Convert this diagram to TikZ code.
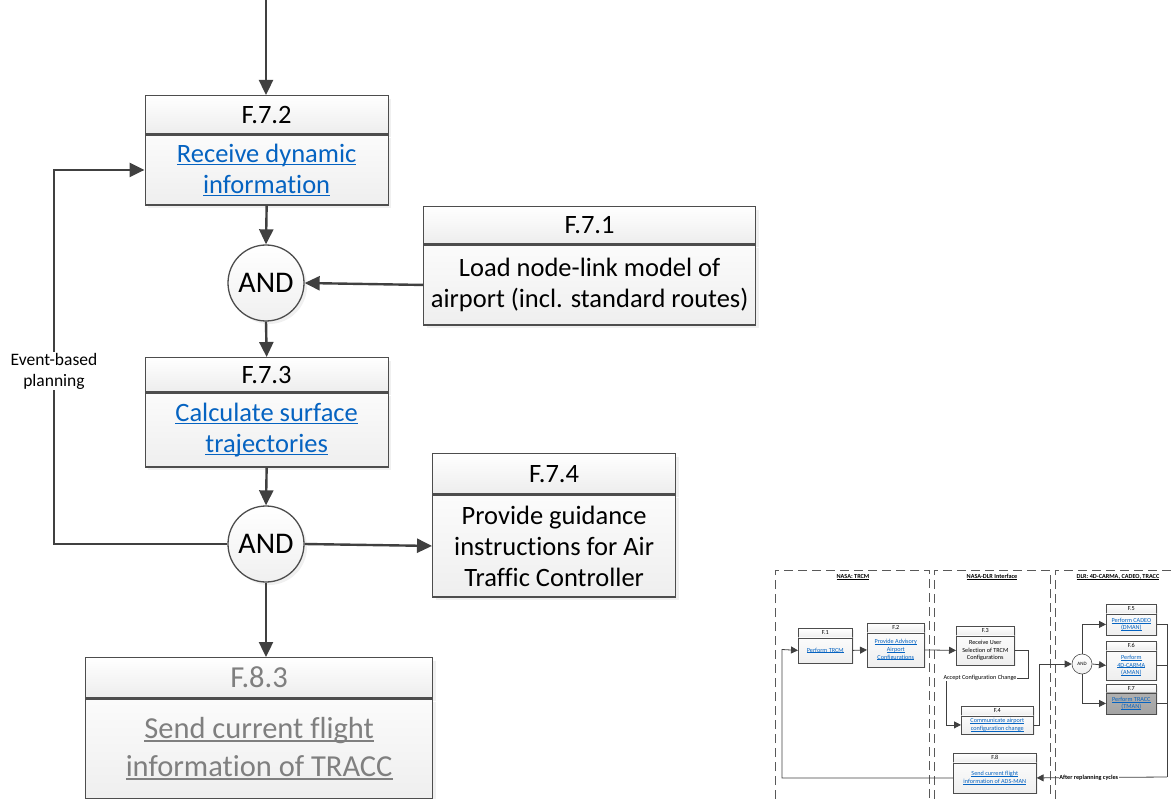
\documentclass[tikz,border=0pt]{standalone}
\usepackage{fontspec}
\setmainfont{Carlito}[Ligatures=CommonOff]
\usetikzlibrary{arrows.meta,shadows}
\definecolor{linkblue}{HTML}{0563C1}
\definecolor{linegray}{HTML}{404040}
\definecolor{boxgray}{HTML}{4D4D4D}
\definecolor{txtgray}{HTML}{7F7F7F}
\definecolor{lanegray}{HTML}{595959}
\newcommand\mainfs{\fontsize{26.5}{31}\selectfont}
\newcommand\bigfs{\fontsize{30.5}{38}\selectfont}
\newcommand\smallfs{\fontsize{6.2}{7.6}\selectfont}
\newcommand\undl[1]{\leavevmode\setbox0=\hbox{#1}\rlap{\rule[-0.11em]{\wd0}{0.06em}}\box0}
\newcommand\lnk[1]{\textcolor{linkblue}{\undl{#1}}}

\begin{document}
\begin{tikzpicture}[x=1pt,y=-1pt,
    hdr/.style={draw=boxgray,line width=1.3pt,top color=white,bottom color=gray!14,anchor=north west,inner sep=0pt,
      drop shadow={shadow xshift=3pt,shadow yshift=-3pt,opacity=0.12}},
    bdy/.style={hdr,top color=gray!3,bottom color=gray!13,align=center},
    gate/.style={circle,draw=boxgray,line width=1.3pt,top color=white,bottom color=gray!12,minimum size=76pt,inner sep=0pt,
      font=\fontsize{30}{36}\selectfont,drop shadow={shadow xshift=3pt,shadow yshift=-3pt,opacity=0.12}},
    flow/.style={draw=linegray,line width=2.4pt},
    arr/.style={flow,-{Triangle[length=15pt,width=14pt]}},
    shdr/.style={draw=boxgray,line width=0.6pt,top color=white,bottom color=gray!14,anchor=north west,inner sep=0pt,font=\smallfs,
      drop shadow={shadow xshift=1.2pt,shadow yshift=-1.2pt,opacity=0.12}},
    sbdy/.style={shdr,top color=gray!3,bottom color=gray!13,align=center},
    sgate/.style={circle,draw=boxgray,line width=0.6pt,top color=white,bottom color=gray!12,minimum size=20pt,inner sep=0pt,font=\fontsize{5}{6}\selectfont},
    sflow/.style={draw=linegray,line width=0.8pt},
    sarr/.style={sflow,-{Triangle[length=7pt,width=7pt]}},
    lane/.style={draw=lanegray,line width=0.9pt,dash pattern=on 9pt off 5pt}]
  \useasboundingbox (0,0) rectangle (1174,799);

  \node[hdr,minimum width=243pt,minimum height=38pt,font=\mainfs] (f72h) at (144.5,95) {F.7.2};
  \node[bdy,minimum width=243pt,minimum height=70pt,font=\mainfs] (f72) at (f72h.south west) {\lnk{Receive dynamic}\\\lnk{information}};
  \node[hdr,minimum width=332pt,minimum height=37pt,font=\mainfs] (f71h) at (423,206) {F.7.1};
  \node[bdy,minimum width=332pt,minimum height=80pt,font=\mainfs] (f71) at (f71h.south west) {Load node-link model of\\airport (incl. standard routes)};
  \node[gate] (and1) at (266,283) {AND};
  \node[hdr,minimum width=243pt,minimum height=34pt,font=\mainfs] (f73h) at (144.5,357) {F.7.3};
  \node[bdy,minimum width=243pt,minimum height=74pt,font=\mainfs] (f73) at (f73h.south west) {\lnk{Calculate surface}\\\lnk{trajectories}};
  \node[gate] (and2) at (266,544) {AND};
  \node[hdr,minimum width=243pt,minimum height=40pt,font=\mainfs] (f74h) at (432,453) {F.7.4};
  \node[bdy,minimum width=243pt,minimum height=102pt,font=\mainfs] (f74) at (f74h.south west) {Provide guidance\\instructions for Air\\Traffic Controller};
  \node[hdr,minimum width=347pt,minimum height=40pt,font=\bigfs,text=txtgray] (f83h) at (85,657) {F.8.3};
  \node[bdy,minimum width=347pt,minimum height=100pt,font=\bigfs,text=txtgray] (f83) at (f83h.south west) {\undl{Send current flight}\\\undl{information of TRACC}};
  \node[font=\fontsize{17.5}{21}\selectfont,align=center,inner sep=1pt] (evlbl) at (54,371) {Event-based\\planning};

  \coordinate (top) at (266,0);
  \draw[arr] (top) -- (top |- f72h.north);
  \draw[arr] (f72.south) -- (and1.north);
  \draw[arr] (f71.west) -- (and1.east);
  \draw[arr] (and1.south) -- (f73h.north);
  \draw[arr] (f73.south) -- (and2.north);
  \draw[arr] (and2.east) -- (f74.west);
  \draw[arr] (and2.south) -- (and2.south |- f83h.north);
  \draw[flow] (and2.west) -| (evlbl.south);
  \draw[arr] (evlbl.north) |- (f72.west);

  % small overview
  \draw[lane] (775,799) |- (929,570) -- (929,799);
  \draw[lane] (934,799) |- (1050,570) -- (1050,799);
  \draw[lane] (1055,799) |- (1174,570);
  \node[font=\smallfs\bfseries] (l1) at (853,577) {\undl{NASA: TRCM}};
  \node[font=\smallfs\bfseries] (l2) at (992,577) {\undl{NASA-DLR Interface}};
  \node[font=\smallfs\bfseries] (l3) at (1118,577) {\undl{DLR: 4D-CARMA, CADEO, TRACC}};

  \node[shdr,minimum width=54pt,minimum height=9pt] (f1h) at (798,628) {F.1};
  \node[sbdy,minimum width=54pt,minimum height=25pt] (f1) at (f1h.south west) {\lnk{Perform TRCM}};
  \node[shdr,minimum width=57pt,minimum height=9pt] (f2h) at (867,623) {F.2};
  \node[sbdy,minimum width=57pt,minimum height=34pt] (f2) at (f2h.south west) {\lnk{Provide Advisory}\\\lnk{Airport}\\\lnk{Configurations}};
  \node[shdr,minimum width=58pt,minimum height=9pt] (f3h) at (956,626) {F.3};
  \node[sbdy,minimum width=58pt,minimum height=29pt] (f3) at (f3h.south west) {Receive User\\Selection of TRCM\\Configurations};
  \node[shdr,minimum width=72pt,minimum height=9pt] (f4h) at (961,706) {F.4};
  \node[sbdy,minimum width=72pt,minimum height=18pt] (f4) at (f4h.south west) {\lnk{Communicate airport}\\\lnk{configuration change}};
  \node[shdr,minimum width=50pt,minimum height=9pt] (f5h) at (1106,604) {F.5};
  \node[sbdy,minimum width=50pt,minimum height=21pt] (f5) at (f5h.south west) {\lnk{Perform CADEO}\\\lnk{(DMAN)}};
  \node[shdr,minimum width=50pt,minimum height=9pt] (f6h) at (1106,641) {F.6};
  \node[sbdy,minimum width=50pt,minimum height=29pt] (f6) at (f6h.south west) {\lnk{Perform}\\\lnk{4D-CARMA}\\\lnk{(AMAN)}};
  \node[shdr,minimum width=50pt,minimum height=8pt] (f7h) at (1106,684) {F.7};
  \node[sbdy,minimum width=50pt,minimum height=21pt,top color=gray!62,bottom color=gray!72] (f7) at (f7h.south west) {\lnk{Perform TRACC}\\\lnk{(TMAN)}};
  \node[shdr,minimum width=83pt,minimum height=9pt] (f8h) at (953,753) {F.8};
  \node[sbdy,minimum width=83pt,minimum height=30pt] (f8) at (f8h.south west) {\lnk{Send current flight}\\\lnk{information of ADS-MAN}};
  \node[sgate] (sand) at (1082,664) {AND};
  \node[font=\smallfs,inner sep=0.5pt] (acc) at (980,678) {Accept Configuration Change};

  \coordinate (lp) at (782,649.5);
  \coordinate (rc) at (1167,777);
  \draw[sarr] (f8.west) -| (lp) -- (f1.west);
  \draw[sarr] (f1.east) -- (f2.west);
  \draw[sarr] (f2.east) -- (f3.west);
  \draw[sflow] (f3.east) -- ++(14,0) |- (acc.east);
  \draw[sarr] ([xshift=4pt]acc.south west) |- (f4.west);
  \draw[sarr] (f4.east) -- ++(6,0) |- (sand.west);
  \draw[sarr] (sand.north) |- (f5.west);
  \draw[sarr] (sand.east) -- (f6.west);
  \draw[sarr] (sand.south) |- (f7.west);
  \draw[sflow] (f5.east) -| (rc);
  \draw[sflow] (f6.east) -- (f6.east -| rc);
  \draw[sflow] (f7.east) -- (f7.east -| rc);
  \draw[sarr] (rc) -- (f8.east) node[pos=0.6,fill=white,inner sep=0.5pt,font=\smallfs\bfseries] {After replanning cycles};
\end{tikzpicture}
\end{document}
